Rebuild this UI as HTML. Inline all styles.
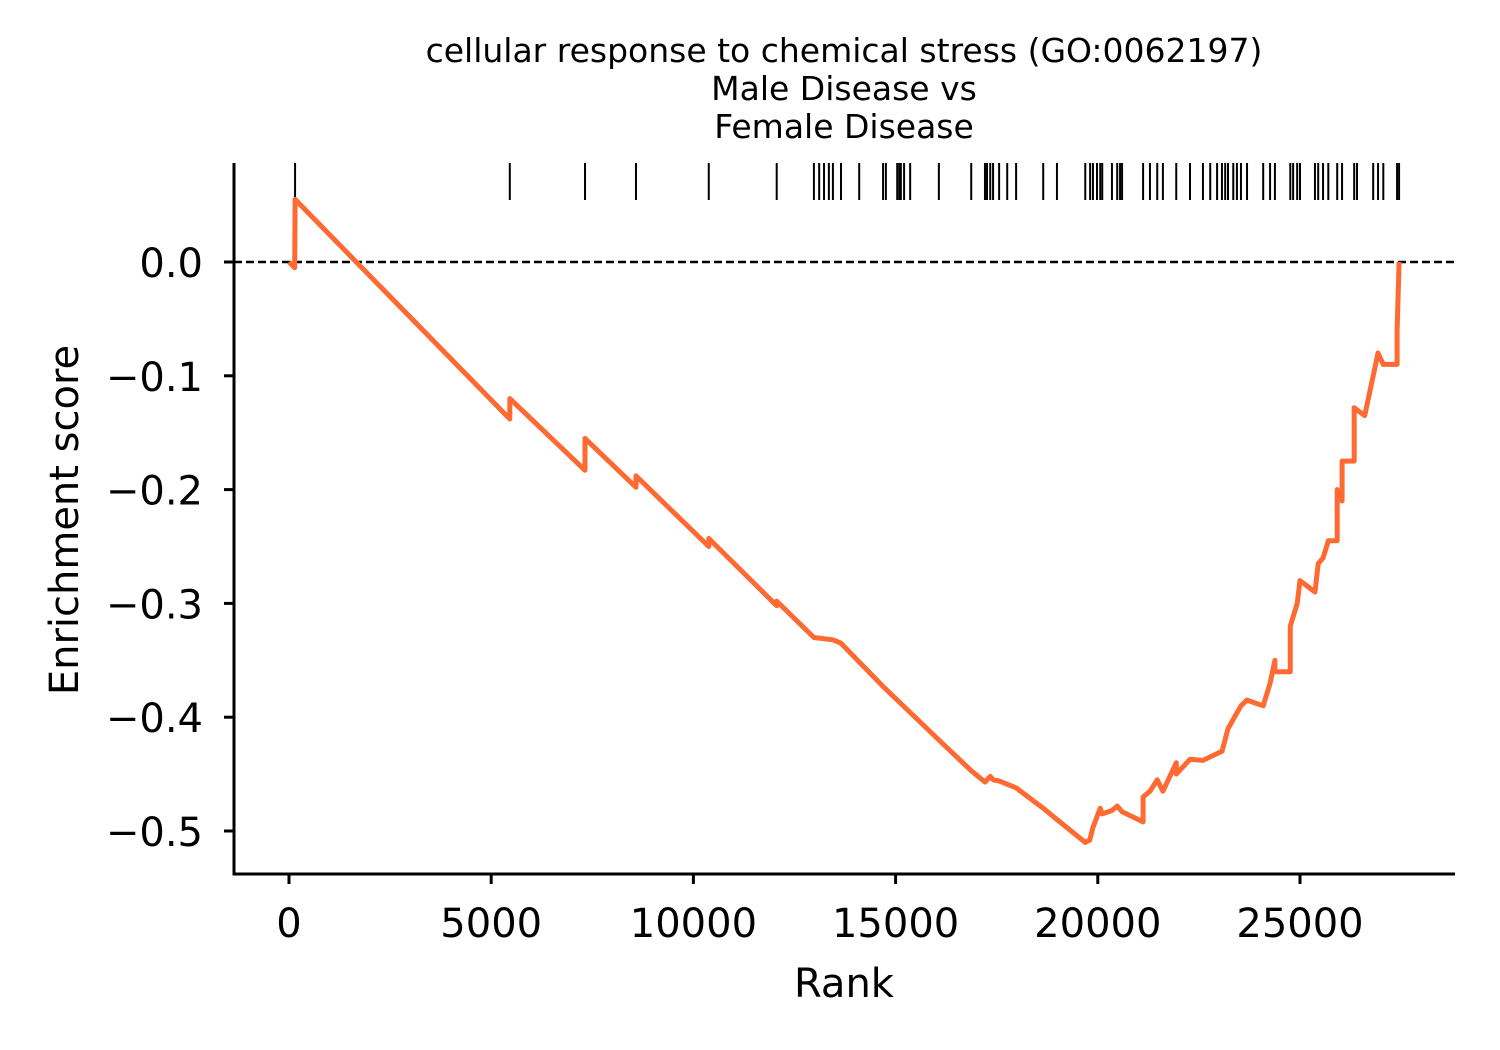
<!DOCTYPE html>
<html><head><meta charset="utf-8"><style>
html,body{margin:0;padding:0;background:#fff;}
svg{display:block;font-family:"DejaVu Sans","Liberation Sans",sans-serif;}
</style></head><body>
<svg id="chart" width="1500" height="1050" viewBox="0 0 1500 1050">
<g font-size="33" text-anchor="middle" fill="#000">
<text x="844" y="62">cellular response to chemical stress (GO:0062197)</text>
<text x="844" y="100">Male Disease vs</text>
<text x="844" y="138">Female Disease</text>
</g>
<g id="plot"></g>
<text x="844" y="997" font-size="40" text-anchor="middle">Rank</text>
<text transform="translate(78,520) rotate(-90)" font-size="40" text-anchor="middle">Enrichment score</text>
</svg>
<script>
const hitRanks=[150,5460,7320,8580,10380,12060,12980,13110,13230,13350,13450,13650,14100,14690,14760,15040,15090,15130,15210,15360,16070,16870,17210,17260,17340,17410,17560,17760,17980,18650,18990,19690,19810,19880,19980,20060,20110,20350,20480,20550,20600,21120,21290,21470,21610,21940,22280,22600,22780,22950,23070,23150,23220,23350,23440,23540,23690,24090,24260,24380,24760,24830,24930,25000,25370,25450,25570,25700,25920,26040,26340,26410,26810,26930,27060,27400,27450];
const esRanks=[0,140,150,5460,5460,7320,7320,8580,8580,10380,10380,12060,12060,12980,13450,13650,14690,16070,16870,17210,17340,17410,17560,17980,18650,18990,19690,19800,19880,20060,20110,20350,20480,20600,21120,21120,21290,21470,21610,21940,21940,22280,22600,23070,23220,23540,23690,24090,24260,24380,24380,24760,24760,24930,25000,25370,25450,25570,25700,25920,25920,26040,26040,26340,26340,26600,26810,26930,27060,27400,27400,27450];
const esVals=[0,-0.005,0.055,-0.138,-0.12,-0.183,-0.155,-0.198,-0.188,-0.25,-0.243,-0.302,-0.298,-0.330,-0.332,-0.335,-0.373,-0.420,-0.447,-0.457,-0.452,-0.455,-0.456,-0.462,-0.48,-0.49,-0.51,-0.508,-0.497,-0.48,-0.485,-0.482,-0.478,-0.483,-0.492,-0.47,-0.465,-0.455,-0.465,-0.44,-0.45,-0.437,-0.438,-0.43,-0.41,-0.39,-0.385,-0.39,-0.37,-0.35,-0.36,-0.36,-0.32,-0.30,-0.28,-0.29,-0.265,-0.26,-0.245,-0.245,-0.2,-0.21,-0.175,-0.175,-0.128,-0.135,-0.10,-0.08,-0.09,-0.09,-0.06,0];
const xTicks=[0,5000,10000,15000,20000,25000];
const yTicks=[0,-0.1,-0.2,-0.3,-0.4,-0.5];
const L=234,R=1455,T=163,B=874;
const xs=v=>289+v*1011/25000;
const ys=v=>262-v*1138;
const NS='http://www.w3.org/2000/svg';
const g=document.getElementById('plot');
function mk(t,a){const e=document.createElementNS(NS,t);for(const k in a)e.setAttribute(k,a[k]);g.appendChild(e);return e;}
const zl=mk('line',{x1:L,x2:R,y1:ys(0),y2:ys(0),stroke:'#000','stroke-width':2.5,'stroke-dasharray':'8,4'});


hitRanks.forEach(r=>{const l=mk('line',{x1:xs(r),x2:xs(r),y1:163,y2:200,stroke:'#000','stroke-width':2});

});
const pts=esRanks.map((r,i)=>xs(r).toFixed(1)+','+ys(esVals[i]).toFixed(1)).join(' ');
const pl=mk('polyline',{points:pts,fill:'none',stroke:'#ff6a33','stroke-width':5,'stroke-linejoin':'round'});


const ax=mk('path',{d:`M${L},${T}V${B}H${R}`,fill:'none',stroke:'#000','stroke-width':3});


xTicks.forEach(v=>{mk('line',{x1:xs(v),x2:xs(v),y1:B,y2:B+10,stroke:'#000','stroke-width':3});
const t=mk('text',{x:xs(v),y:937,'font-size':40,'text-anchor':'middle'});t.textContent=v;

});
yTicks.forEach(v=>{mk('line',{x1:L-10,x2:L,y1:ys(v),y2:ys(v),stroke:'#000','stroke-width':3});
const t=mk('text',{x:L-31,y:ys(v)+15,'font-size':40,'text-anchor':'end'});t.textContent=(v<0?'\u2212':'')+Math.abs(v).toFixed(1);

});
</script>
</body></html>
